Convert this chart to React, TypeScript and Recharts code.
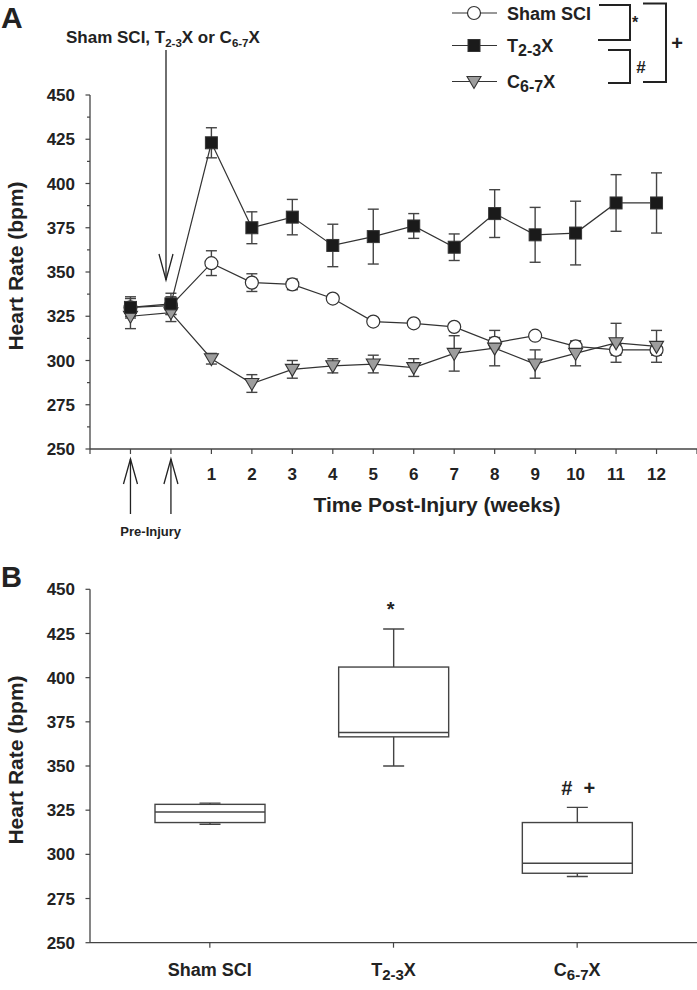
import React from 'react';
import { ComposedChart, Line, Bar, XAxis, YAxis, ErrorBar } from 'recharts';

// ---------- Panel A data ----------
const timeLabels = ['Pre-1', 'Pre-2', '1', '2', '3', '4', '5', '6', '7', '8', '9', '10', '11', '12'];
const shamValues = [330, 331, 355, 344, 343, 335, 322, 321, 319, 310, 314, 308, 306, 306];
const shamErrors = [5, 5, 7, 5, 3, 2, 2, 2, 2, 3, 2, 3, 3, 3];
const t23Values = [330, 332, 423, 375, 381, 365, 370, 376, 364, 383, 371, 372, 389, 389];
const t23Errors = [6, 6, 8.5, 9, 10, 12, 15.5, 7, 7.5, 13.5, 15.5, 18, 16, 17];
const c67Values = [325, 327, 301, 287, 295, 297, 298, 296, 304, 307, 298, 304, 310, 308];
const c67Errors = [7, 5, 3, 5, 5, 4, 5, 5, 10, 10, 8, 7, 11, 9];
const yTicksA = [250, 262.5, 275, 287.5, 300, 312.5, 325, 337.5, 350, 362.5, 375, 387.5, 400, 412.5, 425, 437.5, 450];
const xTicksA = [0, 1, 2, 3, 4, 5, 6, 7, 8, 9, 10, 11, 12, 13, 14, 15];

// ---------- Panel B data ----------
const boxGroups = ['Sham SCI', 'T2-3X', 'C6-7X'];
const boxMin = [317, 350, 287.5];
const boxQ1 = [318, 366.5, 289.3];
const boxMedian = [324, 369, 295];
const boxQ3 = [328.3, 406, 318];
const boxMax = [329, 427.5, 326.6];
const boxSig = ['', '*', '# +'];
const yTicksB = [250, 275, 300, 325, 350, 375, 400, 425, 450];

const rowsA = timeLabels.map((label, i) => ({
  x: i + 1,
  label,
  sham: shamValues[i],
  shamErr: shamErrors[i],
  t23: t23Values[i],
  t23Err: t23Errors[i],
  c67: c67Values[i],
  c67Err: c67Errors[i],
}));

const rowsB = boxGroups.map((name, i) => ({
  name,
  min: boxMin[i],
  q1: boxQ1[i],
  median: boxMedian[i],
  q3: boxQ3[i],
  max: boxMax[i],
  sig: boxSig[i],
}));

const FONT = '"Liberation Sans", Arial, sans-serif';
const AXIS = '#444';
const LINE = '#333';

// label with subscript, e.g. T2-3X
const SubLabel = ({ text, x, y, size, subSize, anchor }: any) => {
  const m = /^([A-Z])(\d-\d)(X)$/.exec(text);
  if (!m) {
    return (
      <text x={x} y={y} textAnchor={anchor} fontFamily={FONT} fontWeight="bold" fontSize={size} fill="#222">
        {text}
      </text>
    );
  }
  return (
    <text x={x} y={y} textAnchor={anchor} fontFamily={FONT} fontWeight="bold" fontSize={size} fill="#222">
      <tspan>{m[1]}</tspan>
      <tspan fontSize={subSize} dy={4}>{m[2]}</tspan>
      <tspan dy={-4}>{m[3]}</tspan>
    </text>
  );
};

// ---------- markers ----------
const circleMarker = (cx: number, cy: number, key?: any) => (
  <circle key={key} cx={cx} cy={cy} r={6.5} fill="#fff" stroke={LINE} strokeWidth={1.2} />
);
const squareMarker = (cx: number, cy: number, key?: any) => (
  <rect key={key} x={cx - 6} y={cy - 6} width={12} height={12} fill="#1a1a1a" stroke="#333" strokeWidth={1} />
);
const triangleMarker = (cx: number, cy: number, key?: any) => (
  <polygon
    key={key}
    points={`${cx - 7},${cy - 5} ${cx + 7},${cy - 5} ${cx},${cy + 7}`}
    fill="#9d9d9d"
    stroke={LINE}
    strokeWidth={1.1}
  />
);

const dotCircle = (p: any) => circleMarker(p.cx, p.cy, `c-${p.index}`);
const dotSquare = (p: any) => squareMarker(p.cx, p.cy, `s-${p.index}`);
const dotTriangle = (p: any) => triangleMarker(p.cx, p.cy, `t-${p.index}`);

// ---------- ticks ----------
const YTickA = (props: any) => {
  const { x, y, payload } = props;
  const v = payload.value;
  const major = v % 25 === 0;
  return (
    <g>
      <line x1={x - (major ? 4.5 : 3)} x2={x} y1={y} y2={y} stroke={AXIS} strokeWidth={1.2} />
      {major && (
        <text x={x - 15} y={y} dy="0.36em" textAnchor="end" fontFamily={FONT} fontWeight="bold" fontSize={17} fill="#222">
          {v}
        </text>
      )}
    </g>
  );
};

const YTickB = (props: any) => {
  const { x, y, payload } = props;
  return (
    <g>
      <line x1={x - 4.5} x2={x} y1={y} y2={y} stroke={AXIS} strokeWidth={1.2} />
      <text x={x - 15} y={y} dy="0.36em" textAnchor="end" fontFamily={FONT} fontWeight="bold" fontSize={17} fill="#222">
        {payload.value}
      </text>
    </g>
  );
};

const XTickA = (props: any) => {
  const { x, y, payload } = props;
  const v = payload.value;
  const label = v >= 3 && v <= 14 ? timeLabels[v - 1] : '';
  return (
    <g>
      <line x1={x} x2={x} y1={y} y2={y + 5} stroke={AXIS} strokeWidth={1.2} />
      {label && (
        <text x={x} y={y + 31} textAnchor="middle" fontFamily={FONT} fontWeight="bold" fontSize={17} fill="#222">
          {label}
        </text>
      )}
    </g>
  );
};

const XTickB = (props: any) => {
  const { x, y, payload } = props;
  return (
    <g>
      <line x1={x} x2={x} y1={y} y2={y + 5} stroke={AXIS} strokeWidth={1.2} />
      <SubLabel text={payload.value} x={x} y={y + 33} size={18} subSize={15} anchor="middle" />
    </g>
  );
};

// ---------- box shape ----------
const BoxShape = (props: any) => {
  const { x, y, width, height, payload } = props;
  const top = Math.min(y, y + height);
  const h = Math.abs(height);
  const bottom = top + h;
  const k = h / (payload.q3 - payload.q1);
  const px = (v: number) => bottom - (v - payload.q1) * k;
  const cx = x + width / 2;
  const cap = 10.5;
  const yMax = px(payload.max);
  const yMin = px(payload.min);
  return (
    <g>
      <line x1={cx} x2={cx} y1={yMax} y2={top} stroke={AXIS} strokeWidth={1.4} />
      <line x1={cx - cap} x2={cx + cap} y1={yMax} y2={yMax} stroke={AXIS} strokeWidth={1.4} />
      <line x1={cx} x2={cx} y1={bottom} y2={yMin} stroke={AXIS} strokeWidth={1.4} />
      <line x1={cx - cap} x2={cx + cap} y1={yMin} y2={yMin} stroke={AXIS} strokeWidth={1.4} />
      <rect x={x} y={top} width={width} height={h} fill="#fff" stroke={AXIS} strokeWidth={1.4} />
      <line x1={x} x2={x + width} y1={px(payload.median)} y2={px(payload.median)} stroke={AXIS} strokeWidth={1.4} />
      {payload.sig && (
        <text
          x={cx - (payload.sig === '*' ? 3 : -1)}
          y={yMax - 20}
          dy="0.36em"
          textAnchor="middle"
          fontFamily={FONT}
          fontWeight="bold"
          fontSize={20}
          fill="#222"
          style={{ whiteSpace: 'pre' }}
        >
          {payload.sig === '# +' ? '#  +' : payload.sig}
        </text>
      )}
    </g>
  );
};

// ---------- overlay geometry (annotations only) ----------
const plotLeftA = 90;
const plotRightA = 697;
const xA = (pos: number) => plotLeftA + (pos * (plotRightA - plotLeftA)) / 15;

const legendItems = [
  { name: 'Sham SCI', marker: circleMarker, baseline: 19.5 },
  { name: 'T2-3X', marker: squareMarker, baseline: 52 },
  { name: 'C6-7X', marker: triangleMarker, baseline: 88 },
];

const UpArrow = ({ x }: { x: number }) => (
  <g stroke="#222" strokeWidth={1.3} fill="none">
    <line x1={x} x2={x} y1={459} y2={514} />
    <polyline points={`${x - 7},${484} ${x},${459} ${x + 7},${484}`} />
  </g>
);

export default function App() {
  return (
    <div style={{ position: 'absolute', left: 0, top: 0, width: 697, height: 990, background: '#fff', fontFamily: FONT }}>
      <div style={{ position: 'absolute', left: 0, top: 0 }}>
        <ComposedChart width={697} height={560} data={rowsA} margin={{ top: 95, right: 0, bottom: 71, left: 0 }}>
          <XAxis
            dataKey="x"
            type="number"
            domain={[0, 15]}
            ticks={xTicksA}
            interval={0}
            tickSize={0}
            tickMargin={0}
            tickLine={false}
            tick={<XTickA />}
            height={40}
            axisLine={{ stroke: AXIS, strokeWidth: 1.3 }}
            allowDataOverflow
          />
          <YAxis
            type="number"
            domain={[250, 450]}
            ticks={yTicksA}
            interval={0}
            tickSize={0}
            tickMargin={0}
            tickLine={false}
            tick={<YTickA />}
            width={90}
            axisLine={{ stroke: AXIS, strokeWidth: 1.3 }}
            allowDataOverflow
          />
          <Line dataKey="sham" stroke={LINE} strokeWidth={1.2} dot={dotCircle} activeDot={false} isAnimationActive={false}>
            <ErrorBar dataKey="shamErr" direction="y" width={5.5} stroke={AXIS} strokeWidth={1.4} />
          </Line>
          <Line dataKey="c67" stroke={LINE} strokeWidth={1.2} dot={dotTriangle} activeDot={false} isAnimationActive={false}>
            <ErrorBar dataKey="c67Err" direction="y" width={5.5} stroke={AXIS} strokeWidth={1.4} />
          </Line>
          <Line dataKey="t23" stroke={LINE} strokeWidth={1.2} dot={dotSquare} activeDot={false} isAnimationActive={false}>
            <ErrorBar dataKey="t23Err" direction="y" width={5.5} stroke={AXIS} strokeWidth={1.4} />
          </Line>
        </ComposedChart>
      </div>

      <div style={{ position: 'absolute', left: 0, top: 560 }}>
        <ComposedChart width={697} height={430} data={rowsB} margin={{ top: 29.3, right: 0, bottom: 7.3, left: 0 }}>
          <XAxis
            dataKey="name"
            type="category"
            padding={{ left: 28, right: 28 }}
            tickSize={0}
            tickMargin={0}
            tickLine={false}
            tick={<XTickB />}
            height={40}
            interval={0}
            axisLine={{ stroke: AXIS, strokeWidth: 1.3 }}
          />
          <YAxis
            type="number"
            domain={[250, 450]}
            ticks={yTicksB}
            interval={0}
            tickSize={0}
            tickMargin={0}
            tickLine={false}
            tick={<YTickB />}
            width={90}
            axisLine={{ stroke: AXIS, strokeWidth: 1.3 }}
            allowDataOverflow
          />
          <Bar
            dataKey={(d: any) => [d.q1, d.q3]}
            barSize={110}
            shape={<BoxShape />}
            isAnimationActive={false}
          />
        </ComposedChart>
      </div>

      <svg width={697} height={990} style={{ position: 'absolute', left: 0, top: 0, pointerEvents: 'none' }}>
        {/* panel letters */}
        <text x={1} y={28} fontFamily={FONT} fontWeight="bold" fontSize={30} fill="#222">A</text>
        <text x={1} y={587} fontFamily={FONT} fontWeight="bold" fontSize={29} fill="#222">B</text>

        {/* top annotation */}
        <text x={66} y={43} fontFamily={FONT} fontWeight="bold" fontSize={17} fill="#222">
          <tspan>Sham SCI, T</tspan>
          <tspan fontSize={11.5} dy={4}>2-3</tspan>
          <tspan dy={-4}>X or C</tspan>
          <tspan fontSize={11.5} dy={4}>6-7</tspan>
          <tspan dy={-4}>X</tspan>
        </text>
        <g stroke="#222" strokeWidth={1.3} fill="none">
          <line x1={166} x2={166} y1={50} y2={280} />
          <polyline points="159,254 166,280 173,254" />
        </g>

        {/* pre-injury arrows */}
        <UpArrow x={xA(1)} />
        <UpArrow x={xA(2)} />
        <text x={(xA(1) + xA(2)) / 2} y={536} textAnchor="middle" fontFamily={FONT} fontWeight="bold" fontSize={13} fill="#222">
          Pre-Injury
        </text>

        {/* axis titles */}
        <text x={437} y={512} textAnchor="middle" fontFamily={FONT} fontWeight="bold" fontSize={21} fill="#222">
          Time Post-Injury (weeks)
        </text>
        <text
          x={15}
          y={266}
          transform="rotate(-90 15 266)"
          textAnchor="middle"
          dominantBaseline="central"
          fontFamily={FONT}
          fontWeight="bold"
          fontSize={21}
          fill="#222"
        >
          Heart Rate (bpm)
        </text>
        <text
          x={15}
          y={760}
          transform="rotate(-90 15 760)"
          textAnchor="middle"
          dominantBaseline="central"
          fontFamily={FONT}
          fontWeight="bold"
          fontSize={21}
          fill="#222"
        >
          Heart Rate (bpm)
        </text>

        {/* legend */}
        {legendItems.map((it, i) => (
          <g key={i}>
            <line x1={452} x2={497} y1={it.baseline - 6.5} y2={it.baseline - 6.5} stroke={LINE} strokeWidth={1.2} />
            {it.marker(474, it.baseline - 6.5)}
            <SubLabel text={it.name} x={507} y={it.baseline} size={18} subSize={16} anchor="start" />
          </g>
        ))}

        {/* significance brackets */}
        <g stroke="#222" strokeWidth={2} fill="none">
          <polyline points="599,5 630,5 630,40 598,40" />
          <polyline points="608,50 630,50 630,83 608,83" />
          <polyline points="643,3.5 666,3.5 666,82 643,82" />
        </g>
        <text x={635} y={28} textAnchor="middle" fontFamily={FONT} fontWeight="bold" fontSize={16} fill="#222">*</text>
        <text x={641} y={73} textAnchor="middle" fontFamily={FONT} fontWeight="bold" fontSize={17} fill="#222">#</text>
        <text x={677} y={50} textAnchor="middle" fontFamily={FONT} fontWeight="bold" fontSize={20} fill="#222">+</text>
      </svg>
    </div>
  );
}
